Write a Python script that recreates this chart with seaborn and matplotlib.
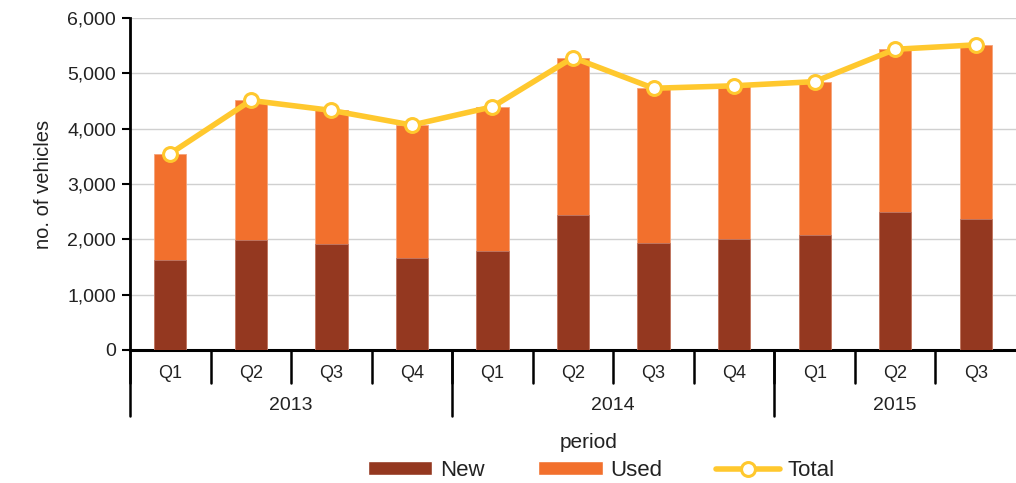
import numpy as np
import pandas as pd
import seaborn as sns
import matplotlib.pyplot as plt
from matplotlib.patches import Patch
from matplotlib.lines import Line2D
from matplotlib.transforms import blended_transform_factory

# Values
years = ["2013", "2014", "2015"]
quarters = ["Q1", "Q2", "Q3", "Q4", "Q1", "Q2", "Q3", "Q4", "Q1", "Q2", "Q3"]
quarter_year = ["2013"] * 4 + ["2014"] * 4 + ["2015"] * 3
new = [1620, 1980, 1920, 1670, 1780, 2445, 1940, 2010, 2085, 2500, 2370]
used = [1930, 2530, 2410, 2395, 2615, 2840, 2790, 2765, 2765, 2935, 3145]

new_color = "#943820"
used_color = "#F2702D"
total_color = "#FFC82E"

df = pd.DataFrame({
    "pos": np.arange(len(quarters)),
    "label": [f"{y} {q}" for y, q in zip(quarter_year, quarters)],
    "New": new,
    "Used": used,
})
df["Total"] = df["New"] + df["Used"]

sns.set_theme(style="white")
plt.rcParams["font.family"] = ["Liberation Sans", "DejaVu Sans"]
text_color = "#222222"

fig = plt.figure(figsize=(10.16, 4.83), dpi=100)
ax = fig.add_axes([0.128, 0.2754, 0.872, 0.6873])

# stacked bars: Used sits on top of New, so draw the total first in the Used colour
sns.barplot(data=df, x="label", y="Total", color=used_color, width=0.4,
            saturation=1, edgecolor="#F5A37A", linewidth=0.6, ax=ax, zorder=2)
sns.barplot(data=df, x="label", y="New", color=new_color, width=0.4,
            saturation=1, edgecolor="#C07A68", linewidth=0.6, ax=ax, zorder=3)
sns.lineplot(x=df["pos"], y=df["Total"], color=total_color, linewidth=4,
             marker="o", markersize=10, markerfacecolor="white",
             markeredgecolor=total_color, markeredgewidth=2.2, ax=ax, zorder=4)

ax.set_xlim(-0.5, len(quarters) - 0.5)
ax.set_ylim(0, 6000)
ax.set_yticks(range(0, 6001, 1000))
ax.set_yticklabels([f"{v:,}" for v in range(0, 6001, 1000)], fontsize=14, color=text_color)
ax.yaxis.grid(True, color="#D0D0D0", linewidth=1)
ax.set_axisbelow(True)
ax.tick_params(axis="y", length=6, width=1.5, color="black", direction="out", left=True, pad=4)
ax.set_ylabel("no. of vehicles", fontsize=14.5, labelpad=10, color=text_color)

for side in ["top", "right"]:
    ax.spines[side].set_visible(False)
ax.spines["left"].set_color("black")
ax.spines["left"].set_linewidth(2)
ax.spines["bottom"].set_color("black")
ax.spines["bottom"].set_linewidth(2.2)

# two-level category axis
ax.set_xticks([])
ax.set_xlabel("")
trans = blended_transform_factory(ax.transData, ax.transAxes)
for i, q in enumerate(quarters):
    ax.text(i, -0.072, q, transform=trans, ha="center", va="center",
            fontsize=13, color=text_color)
for i in range(len(quarters)):
    ax.add_line(Line2D([i - 0.5, i - 0.5], [0, -0.1], transform=trans,
                       color="black", linewidth=1.8, clip_on=False))
start = 0
for y in years:
    n = quarter_year.count(y)
    ax.add_line(Line2D([start - 0.5, start - 0.5], [0, -0.2], transform=trans,
                       color="black", linewidth=1.8, clip_on=False))
    ax.text(start + (n - 1) / 2, -0.166, y, transform=trans, ha="center",
            va="center", fontsize=14, color=text_color)
    start += n

fig.text(0.579, 0.084, "period", ha="center", va="center", fontsize=15, color=text_color)

handles = [
    Patch(facecolor=new_color, label="New"),
    Patch(facecolor=used_color, label="Used"),
    Line2D([], [], color=total_color, linewidth=4, marker="o", markersize=10,
           markerfacecolor="white", markeredgecolor=total_color, markeredgewidth=2.2, label="Total"),
]
leg = fig.legend(handles=handles, loc="center", bbox_to_anchor=(0.592, 0.026), ncol=3,
                 frameon=False, fontsize=16, handlelength=2.9, handleheight=0.55,
                 columnspacing=2.4, handletextpad=0.35, borderpad=0.1)
for t in leg.get_texts():
    t.set_color(text_color)

fig.savefig("out.png", dpi=100)
